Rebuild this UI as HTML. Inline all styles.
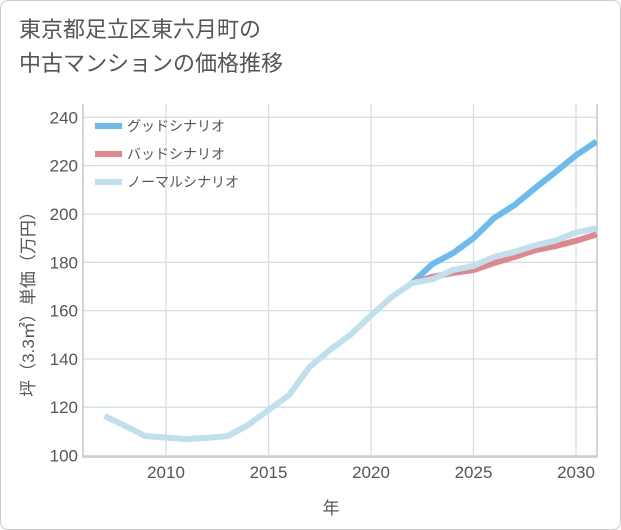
<!DOCTYPE html>
<html><head><meta charset="utf-8"><style>
body{margin:0;background:#fff;font-family:"Liberation Sans","Noto Sans CJK JP",sans-serif;}
#wrap{position:relative;width:619px;height:528px;border:1px solid #ccc;border-radius:8px;overflow:hidden;background:#fff}
#title{position:absolute;left:18px;top:12px;font-size:22px;line-height:34px;color:#555;}
</style></head><body>
<div id="wrap">
<div id="title">東京都足立区東六月町の<br>中古マンションの価格推移</div>
<svg id="chart" width="621" height="530" style="position:absolute;left:-1px;top:-1px"></svg>
</div>
<script>
const years=[2007,2008,2009,2010,2011,2012,2013,2014,2015,2016,2017,2018,2019,2020,2021,2022,2023,2024,2025,2026,2027,2028,2029,2030,2031];
const normal=[116.4,112.3,108,107.4,106.8,107.3,108,112.6,118.8,125,136.6,143.7,150,158,165.6,171.4,173,176.8,178.5,182.2,184.3,187,189,192.3,194];
const goodYears=[2022,2023,2024,2025,2026,2027,2028,2029,2030,2031];
const good=[171.4,179.3,183.8,190,198.3,203.7,210.7,217.4,224.3,230];
const bad=[171.4,174,175.6,176.8,179.7,182.2,185,186.7,188.9,191.5];
const yTicks=[100,120,140,160,180,200,220,240];
const xTicks=[2010,2015,2020,2025,2030];
const L=83,R=597,T=104,B=457;
const x=v=>166+(v-2010)*20.5;
const y=v=>455.5-(v-100)*2.415;
const svg=document.getElementById('chart');
const NS='http://www.w3.org/2000/svg';
function mk(t,a){const e=document.createElementNS(NS,t);for(const k in a)e.setAttribute(k,a[k]);svg.appendChild(e);return e;}
const defs=mk('defs',{});
const cp=document.createElementNS(NS,'clipPath');cp.setAttribute('id','c');
const cr=document.createElementNS(NS,'rect');cr.setAttribute('x',L);cr.setAttribute('y',T);cr.setAttribute('width',R-L);cr.setAttribute('height',B-T);
cp.appendChild(cr);defs.appendChild(cp);
yTicks.forEach(v=>{
 const g=mk('line',{x1:L,x2:R,y1:y(v),y2:y(v),stroke:'#d5dee6','stroke-width':1.3});
 
 
 const t=mk('text',{x:78,y:y(v)+6,'text-anchor':'end','font-size':17,fill:'#555'});
 t.textContent=v;
 
 
});
xTicks.forEach(v=>{
 const g=mk('line',{x1:x(v),x2:x(v),y1:T,y2:B,stroke:'#d5dee6','stroke-width':1.3});
 
 
 const t=mk('text',{x:x(v),y:478,'text-anchor':'middle','font-size':17,fill:'#555'});
 t.textContent=v;
 
 
});
const ax=mk('path',{d:`M${L},${T}V${B}H${R}V${T}`,fill:'none',stroke:'#aaa','stroke-width':1});


function line(xs,vs,color,name){
 const d=xs.map((yr,i)=>(i?'L':'M')+x(yr)+','+y(vs[i])).join('');
 const p=mk('path',{d:d,fill:'none',stroke:color,'stroke-width':6,'stroke-linejoin':'round','clip-path':'url(#c)'});
 
 
}
line(goodYears,good,'#6bbbf0','good-scenario-line');
line(goodYears,bad,'#e0868c','bad-scenario-line');
line(years,normal,'#bfe0ec','normal-scenario-line');
const leg=[['グッドシナリオ','#6bbbf0'],['バッドシナリオ','#e0868c'],['ノーマルシナリオ','#bfe0ec']];
leg.forEach((l,i)=>{
 const yy=126+i*28;
 const s=mk('line',{x1:95,x2:122,y1:yy,y2:yy,stroke:l[1],'stroke-width':6});
 
 
 const t=mk('text',{x:127,y:yy+5,'font-size':14,fill:'#555'});
 t.textContent=l[0];
 
 
});
const xt=mk('text',{x:331,y:514,'text-anchor':'middle','font-size':17,fill:'#555'});
xt.textContent='年';


const yt=mk('text',{x:0,y:0,'text-anchor':'middle','font-size':17,fill:'#555',transform:'translate(34,300) rotate(-90)'});
yt.textContent='坪（3.3㎡）単価（万円）';


</script>
</body></html>
